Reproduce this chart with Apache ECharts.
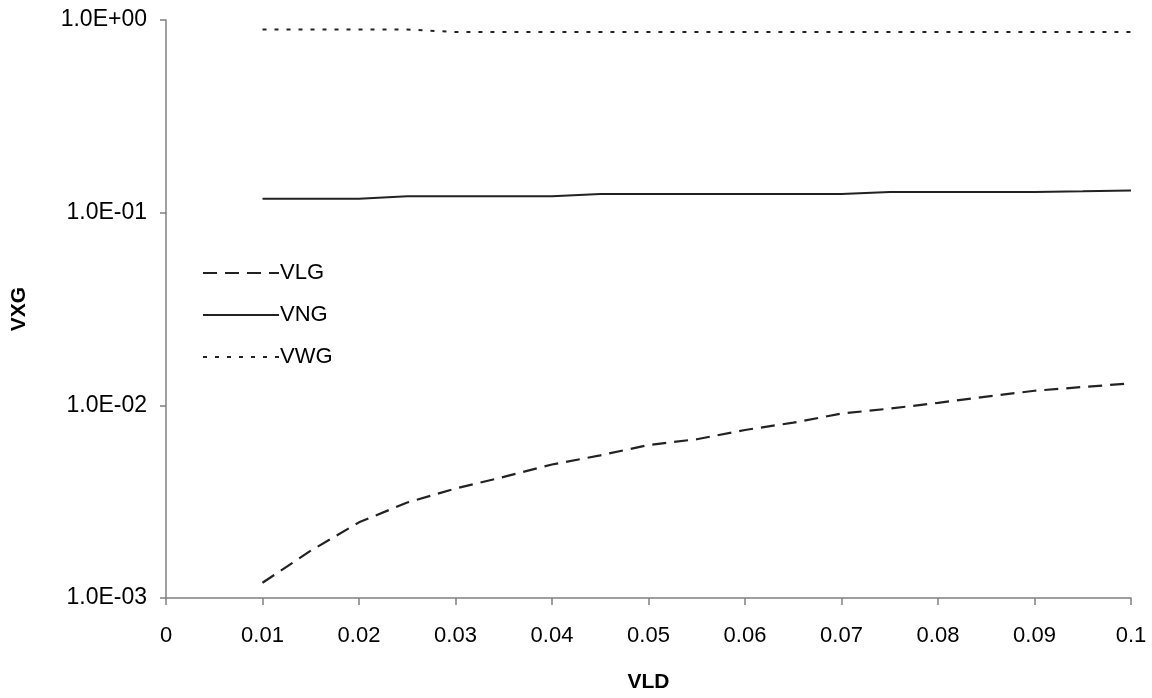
<!DOCTYPE html>
<html>
<head>
<meta charset="utf-8">
<script src="https://cdn.jsdelivr.net/npm/echarts@6/dist/echarts.min.js"></script>
<style>
html,body{margin:0;padding:0;background:#fff;}
#chart{width:1152px;height:698px;}
</style>
</head>
<body>
<div id="chart"></div>
<script>
var vld = [0.01, 0.015, 0.02, 0.025, 0.03, 0.035, 0.04, 0.045, 0.05, 0.055, 0.06, 0.065, 0.07, 0.075, 0.08, 0.085, 0.09, 0.095, 0.1];
var vlg = [0.0012, 0.00176, 0.00247, 0.00313, 0.0037, 0.00425, 0.00493, 0.0055, 0.00622, 0.00667, 0.00745, 0.00813, 0.00906, 0.00962, 0.0103, 0.0111, 0.0119, 0.01245, 0.0130];
var vng = [0.118, 0.118, 0.118, 0.1215, 0.1215, 0.1215, 0.1215, 0.125, 0.125, 0.125, 0.125, 0.125, 0.125, 0.128, 0.128, 0.128, 0.128, 0.129, 0.1305];
var vwg = [0.893, 0.893, 0.893, 0.893, 0.866, 0.866, 0.866, 0.866, 0.866, 0.866, 0.866, 0.866, 0.866, 0.866, 0.866, 0.866, 0.866, 0.866, 0.866];
var xTickLabels = ['0', '0.01', '0.02', '0.03', '0.04', '0.05', '0.06', '0.07', '0.08', '0.09', '0.1'];
var yTickLabels = ['1.0E-03', '1.0E-02', '1.0E-01', '1.0E+00'];

function pairs(xs, ys) { return xs.map(function (x, i) { return [x, ys[i]]; }); }

var FONT = 'Liberation Sans';
var chart = echarts.init(document.getElementById('chart'), null, {renderer: 'canvas'});
chart.setOption({
  animation: false,
  backgroundColor: '#ffffff',
  textStyle: {fontFamily: FONT},
  grid: {left: 166, right: 21, top: 20, bottom: 99, containLabel: false},
  legend: {
    left: 202, top: 262, orient: 'vertical',
    itemWidth: 76, itemHeight: 22, itemGap: 20, padding: 0,
    itemStyle: {opacity: 0},
    textStyle: {fontFamily: FONT, fontSize: 22, color: '#000', padding: [0, 0, 0, -4]},
    data: ['VLG', 'VNG', 'VWG']
  },
  xAxis: {
    type: 'value', min: 0, max: 0.1, interval: 0.01,
    name: 'VLD', nameLocation: 'middle', nameGap: 74,
    nameTextStyle: {fontFamily: FONT, fontSize: 21, fontWeight: 'bold', color: '#000'},
    axisLine: {lineStyle: {color: '#808080', width: 1.5}},
    axisTick: {show: true, length: 7, lineStyle: {color: '#808080', width: 1.5}},
    splitLine: {show: false},
    axisLabel: {
      fontFamily: FONT, fontSize: 22, color: '#000', margin: 27,
      formatter: function (v) { return xTickLabels[Math.round(v / 0.01)]; }
    }
  },
  yAxis: {
    type: 'log', logBase: 10, min: 0.001, max: 1,
    name: 'VXG', nameLocation: 'middle', nameGap: 136, nameRotate: 90,
    nameTextStyle: {fontFamily: FONT, fontSize: 21, fontWeight: 'bold', color: '#000'},
    axisLine: {show: true, lineStyle: {color: '#808080', width: 1.5}},
    axisTick: {show: true, length: 6, lineStyle: {color: '#808080', width: 1.5}},
    splitLine: {show: false},
    minorTick: {show: false},
    axisLabel: {
      fontFamily: FONT, fontSize: 23, color: '#000', margin: 19,
      formatter: function (v) { return yTickLabels[Math.round(Math.log10(v)) + 3]; }
    }
  },
  series: [
    {name: 'VLG', type: 'line', data: pairs(vld, vlg), showSymbol: false, symbol: 'none',
     lineStyle: {color: '#222', width: 2.2, type: [14, 8]}, itemStyle: {color: '#222'}},
    {name: 'VNG', type: 'line', data: pairs(vld, vng), showSymbol: false, symbol: 'none',
     lineStyle: {color: '#222', width: 2}, itemStyle: {color: '#222'}},
    {name: 'VWG', type: 'line', data: pairs(vld, vwg), showSymbol: false, symbol: 'none',
     lineStyle: {color: '#222', width: 2, type: [4, 8]}, itemStyle: {color: '#222'}}
  ]
});
</script>
</body>
</html>
